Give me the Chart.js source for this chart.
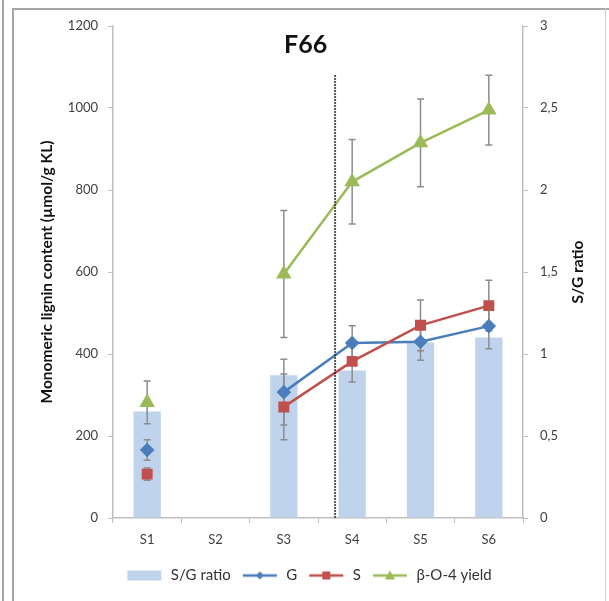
<!DOCTYPE html>
<html>
<head>
<meta charset="utf-8">
<script src="https://cdn.jsdelivr.net/npm/chart.js@4"></script>
<style>
    html, body { margin: 0; padding: 0; background: #fff; }
    #wrap { position: relative; width: 609px; height: 601px; overflow: hidden; }
    .edge { position: absolute; background: #a6a6a6; }
    canvas { position: absolute; left: 0; top: 0; }
</style>
</head>
<body>
<div id="wrap">
    <div class="edge" style="left:2px;top:0;width:2px;height:601px;"></div>
    <div class="edge" style="left:12px;top:8px;width:2px;height:593px;"></div>
    <div class="edge" style="left:12px;top:8px;width:597px;height:2px;"></div>
    <div class="edge" style="left:605px;top:8px;width:1px;height:593px;background:#d0d0d0;"></div>
    <canvas id="chart" width="609" height="601"></canvas>
</div>
<script>
const labels = ['S1', 'S2', 'S3', 'S4', 'S5', 'S6'];

// S/G ratio (right axis)
const sgRatio = [0.65, null, 0.87, 0.90, 1.07, 1.10];

// monomer contents, µmol/g KL (left axis)
const gValues = [166, null, 307, 427, 430, 468];
const gErrors = [25, null, 80, 42, 45, 55];
const sValues = [107, null, 271, 382, 470, 518];
const sErrors = [15, null, 80, 50, 62, 62];
const bo4Values = [282, null, 595, 820, 915, 995];
const bo4Errors = [52, null, 155, 103, 107, 85];

const leftTicks = [0, 200, 400, 600, 800, 1000, 1200];
const rightTicks = [0, 0.5, 1, 1.5, 2, 2.5, 3];

const colBar = '#c0d3ec';
const colG = '#4a7ebb';
const colS = '#c0504d';
const colB = '#9bbb59';
const axisGrey = '#bfbfbf';
const textGrey = '#404040';

Chart.defaults.font.family = 'Lato, "DejaVu Sans", sans-serif';

const errorSets = [
    { idx: 1, err: gErrors },
    { idx: 2, err: sErrors },
    { idx: 3, err: bo4Errors }
];

// small canvas used as legend symbol: a line with the marker on it
function legendIcon(color, style) {
    const c = document.createElement('canvas');
    c.width = 38; c.height = 14;
    const ctx = c.getContext('2d');
    if (style === 'bar') {
        ctx.fillStyle = color;
        ctx.fillRect(2, 2, 34, 10);
        return c;
    }
    ctx.strokeStyle = color;
    ctx.lineWidth = 2.5;
    ctx.beginPath(); ctx.moveTo(2, 7); ctx.lineTo(36, 7); ctx.stroke();
    ctx.fillStyle = color;
    ctx.beginPath();
    if (style === 'rectRot') {
        ctx.moveTo(19, 3); ctx.lineTo(23, 7); ctx.lineTo(19, 11); ctx.lineTo(15, 7);
    } else if (style === 'rect') {
        ctx.rect(15, 3, 8, 8);
    } else {
        ctx.moveTo(19, 2); ctx.lineTo(24, 11); ctx.lineTo(14, 11);
    }
    ctx.closePath(); ctx.fill();
    return c;
}

const errorBars = {
    id: 'errorBars',
    afterDatasetDraw(chart, args) {
        if (args.index !== 0) return;
        const ctx = chart.ctx;
        const x = chart.scales.x, y = chart.scales.y;
        ctx.save();
        ctx.strokeStyle = '#8c8c8c';
        ctx.lineWidth = 1.5;
        for (const set of errorSets) {
            const vals = chart.data.datasets[set.idx].data;
            vals.forEach((v, i) => {
                if (v === null || set.err[i] === null) return;
                const px = x.getPixelForValue(i);
                const top = y.getPixelForValue(v + set.err[i]);
                const bot = y.getPixelForValue(v - set.err[i]);
                ctx.beginPath();
                ctx.moveTo(px, top); ctx.lineTo(px, bot);
                ctx.moveTo(px - 3.5, top); ctx.lineTo(px + 3.5, top);
                ctx.moveTo(px - 3.5, bot); ctx.lineTo(px + 3.5, bot);
                ctx.stroke();
            });
        }
        ctx.restore();
    }
};

const extras = {
    id: 'extras',
    afterDraw(chart) {
        const ctx = chart.ctx;
        const x = chart.scales.x, y = chart.scales.y;
        const area = chart.chartArea;
        // dotted separator between S3 and S4
        const px = x.getPixelForValue(2) + 0.75 * (x.getPixelForValue(3) - x.getPixelForValue(2));
        ctx.save();
        ctx.strokeStyle = '#222';
        ctx.lineWidth = 2;
        ctx.setLineDash([1.5, 1.5]);
        ctx.beginPath();
        ctx.moveTo(px, y.getPixelForValue(1080));
        ctx.lineTo(px, area.bottom);
        ctx.stroke();
        ctx.restore();
        // panel title
        ctx.save();
        ctx.fillStyle = '#111';
        ctx.font = 'bold 25px Lato, "DejaVu Sans", sans-serif';
        ctx.textAlign = 'center';
        ctx.textBaseline = 'middle';
        ctx.fillText('F66', area.left + 0.47 * (area.right - area.left), y.getPixelForValue(1155));
        ctx.restore();
        // right axis title, reading bottom to top
        ctx.save();
        ctx.translate(578, (area.top + area.bottom) / 2);
        ctx.rotate(-Math.PI / 2);
        ctx.fillStyle = '#111';
        ctx.font = 'bold 15.5px Lato, "DejaVu Sans", sans-serif';
        ctx.textAlign = 'center';
        ctx.textBaseline = 'middle';
        ctx.fillText('S/G ratio', 0, 0);
        ctx.restore();
    }
};

new Chart(document.getElementById('chart'), {
    data: {
        labels: labels,
        datasets: [
            {
                type: 'bar',
                label: 'S/G ratio',
                data: sgRatio,
                yAxisID: 'y1',
                backgroundColor: colBar,
                barPercentage: 0.4,
                categoryPercentage: 1,
                order: 4
            },
            {
                type: 'line',
                label: 'G',
                data: gValues,
                yAxisID: 'y',
                borderColor: colG,
                backgroundColor: colG,
                borderWidth: 2.5,
                pointStyle: 'rectRot',
                pointRadius: 5.5,
                order: 3
            },
            {
                type: 'line',
                label: 'S',
                data: sValues,
                yAxisID: 'y',
                borderColor: colS,
                backgroundColor: colS,
                borderWidth: 2.5,
                pointStyle: 'rect',
                pointRadius: 6,
                order: 2
            },
            {
                type: 'line',
                label: 'β-O-4 yield',
                data: bo4Values,
                yAxisID: 'y',
                borderColor: colB,
                backgroundColor: colB,
                borderWidth: 2.5,
                pointStyle: 'triangle',
                pointRadius: 6.5,
                order: 1
            }
        ]
    },
    options: {
        responsive: false,
        animation: false,
        layout: { padding: { top: 26, bottom: 8, left: 8, right: 0 } },
        scales: {
            x: {
                offset: true,
                grid: { display: true, drawOnChartArea: false, offset: true, tickLength: 5, color: axisGrey },
                border: { color: axisGrey, width: 1.5 },
                ticks: { color: textGrey, padding: 9, font: { size: 13 } },
                afterFit(s) { s.height = 40; }
            },
            y: {
                position: 'left',
                min: 0, max: 1200,
                afterBuildTicks(s) { s.ticks = leftTicks.map(v => ({ value: v })); },
                grid: { display: true, drawOnChartArea: false, tickLength: 5, color: axisGrey },
                border: { color: axisGrey, width: 1.5 },
                ticks: { color: textGrey, padding: 10, font: { size: 13 }, callback: v => String(v) },
                title: {
                    display: true,
                    text: 'Monomeric lignin content (µmol/g KL)',
                    color: '#111',
                    font: { size: 15.5, weight: 'bold' },
                    padding: { top: 30, bottom: 0 }
                },
                afterFit(s) { s.width = 105; }
            },
            y1: {
                position: 'right',
                min: 0, max: 3,
                afterBuildTicks(s) { s.ticks = rightTicks.map(v => ({ value: v })); },
                grid: { display: true, drawOnChartArea: false, tickLength: 5, color: axisGrey },
                border: { color: axisGrey, width: 1.5 },
                ticks: {
                    color: textGrey, padding: 12, font: { size: 13 },
                    callback: v => String(v).replace('.', ',')
                },
                afterFit(s) { s.width = 86; }
            }
        },
        plugins: {
            tooltip: { enabled: false },
            legend: {
                position: 'bottom',
                labels: {
                    usePointStyle: true,
                    pointStyleWidth: 38,
                    boxHeight: 12,
                    padding: 10,
                    color: '#333',
                    font: { size: 15 },
                    generateLabels(chart) {
                        const styles = ['bar', 'rectRot', 'rect', 'triangle'];
                        return chart.data.datasets.map((ds, i) => ({
                            text: ds.label,
                            pointStyle: legendIcon(ds.backgroundColor, styles[i]),
                            fillStyle: ds.backgroundColor,
                            strokeStyle: ds.backgroundColor,
                            lineWidth: 0,
                            fontColor: '#333',
                            hidden: false,
                            datasetIndex: i
                        }));
                    }
                }
            }
        }
    },
    plugins: [errorBars, extras]
});
</script>
</body>
</html>
